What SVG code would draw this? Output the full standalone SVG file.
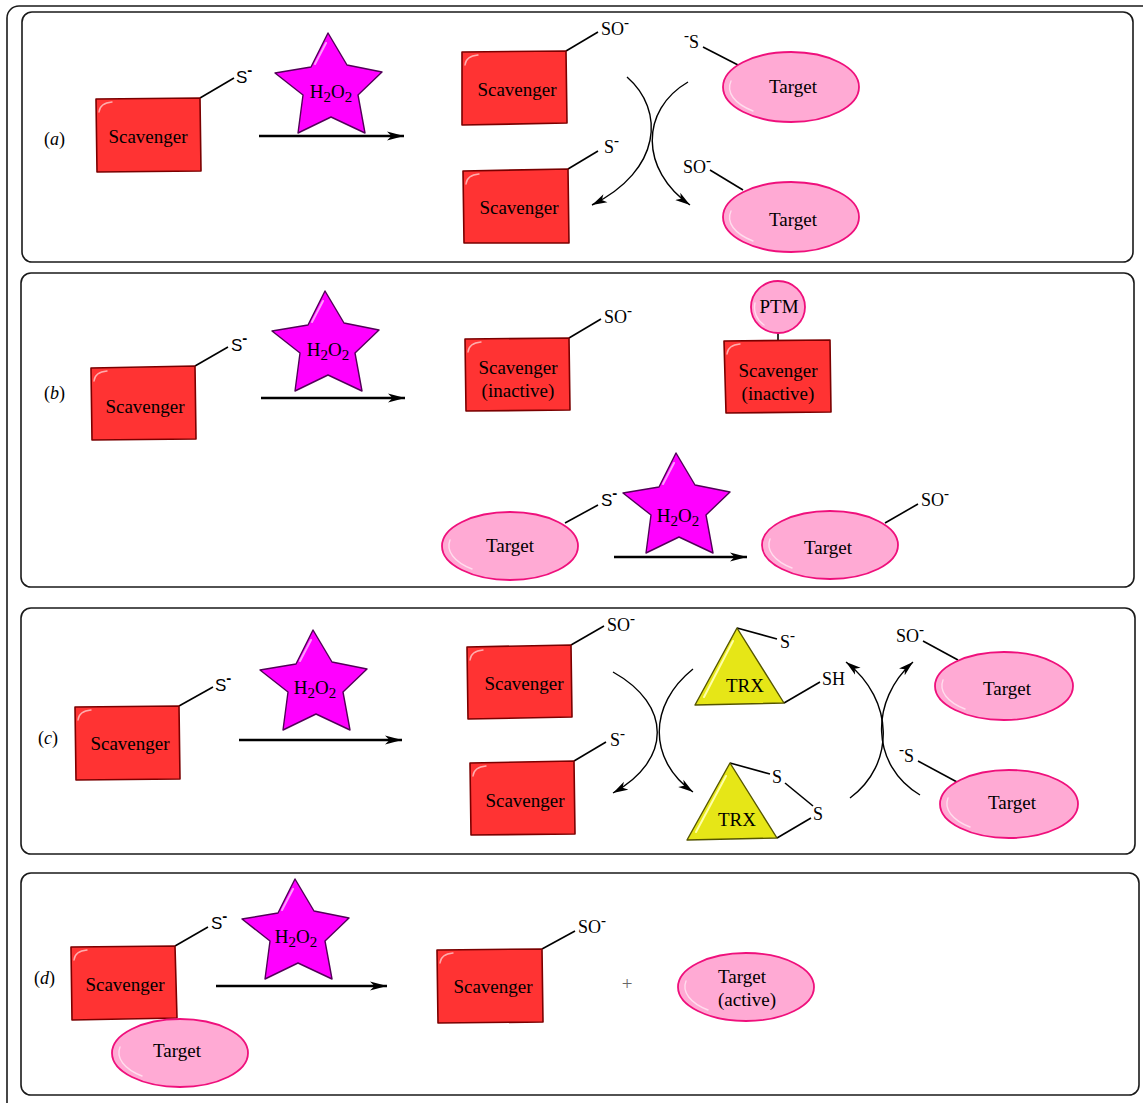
<svg xmlns="http://www.w3.org/2000/svg" xmlns:xlink="http://www.w3.org/1999/xlink" width="1143" height="1103" viewBox="0 0 1143 1103">
<style>
.frame{fill:none;stroke:#1a1a1a;stroke-width:1.6}
.box{fill:#ff3333;stroke:#7a0000;stroke-width:1.6;stroke-linejoin:round}
.tgt{fill:#ffaad4;stroke:#ef107c;stroke-width:1.8}
.star{fill:#ff00ff;stroke:#520058;stroke-width:1.4;stroke-linejoin:round}
.trx{fill:#e6e617;stroke:#555500;stroke-width:1.4;stroke-linejoin:round}
.hl{fill:none;stroke:#ffffff;stroke-opacity:.6;stroke-width:1.4;stroke-linecap:round}
.hls{fill:none;stroke:#ff99ff;stroke-width:2;stroke-linecap:round}
.hlt{fill:none;stroke:#ffffa8;stroke-width:2;stroke-linecap:round}
.bond{stroke:#000;stroke-width:1.6;fill:none}
.arr{stroke:#000;stroke-width:2.4;fill:none;marker-end:url(#ah)}
.carr{stroke:#000;stroke-width:1.4;fill:none;marker-end:url(#ah2)}
.lbl{font-family:"Liberation Serif","Times New Roman",serif;font-size:19px;text-anchor:middle;fill:#000}
.grp{font-family:"Liberation Serif","Times New Roman",serif;font-size:18px;fill:#000}
.sans{font-family:"Liberation Sans",Arial,sans-serif;font-size:17px;fill:#000}
.sup{font-size:15px;font-weight:bold}
.sub{font-size:15px}
.plus{font-family:"Liberation Serif",serif;font-size:19px;fill:#666;text-anchor:middle}
</style>
<defs>
<marker id="ah" markerUnits="userSpaceOnUse" markerWidth="18" markerHeight="10" refX="17" refY="5" orient="auto"><path d="M0,0.5 L17,5 L0,9.5 L4.5,5 Z" fill="#000"/></marker>
<marker id="ah2" markerUnits="userSpaceOnUse" markerWidth="16" markerHeight="10" refX="15" refY="5" orient="auto"><path d="M0,0.5 L15,5 L0,9.5 L4,5 Z" fill="#000"/></marker>
<path id="starShape" d="M-1,-55 L18,-23 L53,-16 L29,7 L36,45 L2,29 L-31,45 L-26,7 L-54,-15 L-18,-21 Z"/>
</defs>

<g id="frames">
<rect class="frame" x="7" y="6" width="1170" height="1130" rx="12"/>
<rect class="frame" x="22" y="12" width="1111" height="250" rx="10"/>
<rect class="frame" x="21" y="273" width="1113" height="314" rx="10"/>
<rect class="frame" x="21" y="608" width="1114" height="246" rx="10"/>
<rect class="frame" x="21" y="873" width="1118" height="222" rx="10"/>
</g>

<g id="panel-labels" class="grp">
<text x="44" y="145">(<tspan font-style="italic">a</tspan>)</text>
<text x="44" y="399">(<tspan font-style="italic">b</tspan>)</text>
<text x="38" y="744">(<tspan font-style="italic">c</tspan>)</text>
<text x="34" y="984">(<tspan font-style="italic">d</tspan>)</text>
</g>

<g id="connectors">
<line class="arr" x1="259" y1="136" x2="404" y2="136"/>
<line class="arr" x1="261" y1="398" x2="405" y2="398"/>
<line class="arr" x1="614" y1="557" x2="747" y2="557"/>
<line class="arr" x1="239" y1="740" x2="402" y2="740"/>
<line class="arr" x1="216" y1="986" x2="387" y2="986"/>
<path class="carr" d="M627,77 C665,110 662,170 592,205"/>
<path class="carr" d="M688,82 C640,110 640,170 690,205"/>
<path class="carr" d="M613,672 C672,705 672,760 613,793"/>
<path class="carr" d="M693,669 C648,705 648,760 693,792"/>
<path class="carr" d="M850,798 C895,765 895,700 846,662"/>
<path class="carr" d="M920,795 C870,765 870,700 913,662"/>
<line class="bond" x1="200" y1="98" x2="234" y2="78"/>
<line class="bond" x1="566" y1="51" x2="598" y2="32"/>
<line class="bond" x1="738" y1="65" x2="703" y2="47"/>
<line class="bond" x1="568" y1="169" x2="598" y2="151"/>
<line class="bond" x1="743" y1="190" x2="710" y2="170"/>
<line class="bond" x1="195" y1="366" x2="228" y2="347"/>
<line class="bond" x1="569" y1="338" x2="601" y2="319"/>
<line class="bond" x1="778" y1="333" x2="778" y2="341"/>
<line class="bond" x1="565" y1="523" x2="598" y2="505"/>
<line class="bond" x1="885" y1="523" x2="918" y2="504"/>
<line class="bond" x1="179" y1="706" x2="213" y2="687"/>
<line class="bond" x1="571" y1="645" x2="604" y2="626"/>
<line class="bond" x1="574" y1="761" x2="606" y2="742"/>
<line class="bond" x1="737" y1="628" x2="777" y2="639"/>
<line class="bond" x1="784" y1="703" x2="820" y2="682"/>
<line class="bond" x1="730" y1="763" x2="770" y2="774"/>
<line class="bond" x1="785" y1="783" x2="813" y2="806"/>
<line class="bond" x1="777" y1="838" x2="811" y2="818"/>
<line class="bond" x1="958" y1="660" x2="923" y2="641"/>
<line class="bond" x1="957" y1="782" x2="918" y2="761"/>
<line class="bond" x1="175" y1="946" x2="208" y2="927"/>
<line class="bond" x1="542" y1="949" x2="575" y2="931"/>
</g>

<g id="a-scavenger1">
<polygon class="box" points="96,99 200,98 201,171 97,172"/>
<path class="hl" d="M99,112 Q100,103 112,102"/>
<text class="lbl" x="148" y="143">Scavenger</text>
<text class="sans" x="236" y="83">S<tspan class="sup" dy="-8">-</tspan></text>
</g>
<g id="a-h2o2">
<use href="#starShape" class="star" transform="translate(329,88)"/>
<path class="hls" d="M326,43 L315,64"/>
<text class="lbl" x="331" y="98">H<tspan class="sub" dy="4">2</tspan><tspan dy="-4">O</tspan><tspan class="sub" dy="4">2</tspan></text>
</g>
<g id="a-scavenger2">
<polygon class="box" points="462,52 566,51 567,123 462,125"/>
<path class="hl" d="M465,65 Q466,56 478,55"/>
<text class="lbl" x="517" y="96">Scavenger</text>
<text class="grp" x="601" y="35">SO<tspan class="sup" dy="-8">-</tspan></text>
</g>
<g id="a-target1">
<ellipse class="tgt" cx="791" cy="87" rx="68" ry="35"/>
<path class="hl" d="M731,81 A62 30 0 0 0 753,111"/>
<text class="lbl" x="793" y="93">Target</text>
<text class="grp" x="684" y="48"><tspan class="sup" dy="-8">-</tspan><tspan dy="8">S</tspan></text>
</g>
<g id="a-scavenger3">
<polygon class="box" points="463,171 568,169 569,243 464,243"/>
<path class="hl" d="M466,184 Q467,175 479,174"/>
<text class="lbl" x="519" y="214">Scavenger</text>
<text class="grp" x="604" y="153">S<tspan class="sup" dy="-8">-</tspan></text>
</g>
<g id="a-target2">
<ellipse class="tgt" cx="791" cy="217" rx="68" ry="35"/>
<path class="hl" d="M731,211 A62 30 0 0 0 753,241"/>
<text class="lbl" x="793" y="226">Target</text>
<text class="grp" x="683" y="173">SO<tspan class="sup" dy="-8">-</tspan></text>
</g>

<g id="b-scavenger1">
<polygon class="box" points="91,368 195,366 196,439 92,440"/>
<path class="hl" d="M94,381 Q95,372 107,371"/>
<text class="lbl" x="145" y="413">Scavenger</text>
<text class="sans" x="231" y="351">S<tspan class="sup" dy="-8">-</tspan></text>
</g>
<g id="b-h2o2-1">
<use href="#starShape" class="star" transform="translate(326,346)"/>
<path class="hls" d="M323,301 L312,322"/>
<text class="lbl" x="328" y="356">H<tspan class="sub" dy="4">2</tspan><tspan dy="-4">O</tspan><tspan class="sub" dy="4">2</tspan></text>
</g>
<g id="b-scavenger-inactive1">
<polygon class="box" points="465,339 569,338 570,410 466,411"/>
<path class="hl" d="M468,352 Q469,343 481,342"/>
<text class="lbl" x="518" y="374">Scavenger</text>
<text class="lbl" x="518" y="397">(inactive)</text>
<text class="grp" x="604" y="323">SO<tspan class="sup" dy="-8">-</tspan></text>
</g>
<g id="b-ptm">
<ellipse class="tgt" cx="778" cy="307" rx="27" ry="26"/>
<path class="hl" d="M755,303 A24 22 0 0 0 764,325"/>
<text class="lbl" x="779" y="313">PTM</text>
</g>
<g id="b-scavenger-inactive2">
<polygon class="box" points="724,341 830,340 831,412 726,413"/>
<path class="hl" d="M727,354 Q728,345 740,344"/>
<text class="lbl" x="778" y="377">Scavenger</text>
<text class="lbl" x="778" y="400">(inactive)</text>
</g>
<g id="b-target1">
<ellipse class="tgt" cx="510" cy="546" rx="68" ry="34"/>
<path class="hl" d="M450,540 A62 30 0 0 0 472,569"/>
<text class="lbl" x="510" y="552">Target</text>
<text class="sans" x="601" y="506">S<tspan class="sup" dy="-8">-</tspan></text>
</g>
<g id="b-h2o2-2">
<use href="#starShape" class="star" transform="translate(677,508)"/>
<path class="hls" d="M674,463 L663,484"/>
<text class="lbl" x="678" y="522">H<tspan class="sub" dy="4">2</tspan><tspan dy="-4">O</tspan><tspan class="sub" dy="4">2</tspan></text>
</g>
<g id="b-target2">
<ellipse class="tgt" cx="830" cy="545" rx="68" ry="34"/>
<path class="hl" d="M770,539 A62 30 0 0 0 792,568"/>
<text class="lbl" x="828" y="554">Target</text>
<text class="grp" x="921" y="506">SO<tspan class="sup" dy="-8">-</tspan></text>
</g>

<g id="c-scavenger1">
<polygon class="box" points="75,707 179,706 180,779 76,780"/>
<path class="hl" d="M78,720 Q79,711 91,710"/>
<text class="lbl" x="130" y="750">Scavenger</text>
<text class="sans" x="215" y="691">S<tspan class="sup" dy="-8">-</tspan></text>
</g>
<g id="c-h2o2">
<use href="#starShape" class="star" transform="translate(314,685)"/>
<path class="hls" d="M311,640 L300,661"/>
<text class="lbl" x="315" y="694">H<tspan class="sub" dy="4">2</tspan><tspan dy="-4">O</tspan><tspan class="sub" dy="4">2</tspan></text>
</g>
<g id="c-scavenger2">
<polygon class="box" points="467,647 571,645 572,717 468,719"/>
<path class="hl" d="M470,660 Q471,651 483,650"/>
<text class="lbl" x="524" y="690">Scavenger</text>
<text class="grp" x="607" y="631">SO<tspan class="sup" dy="-8">-</tspan></text>
</g>
<g id="c-scavenger3">
<polygon class="box" points="470,763 574,761 575,834 471,835"/>
<path class="hl" d="M473,776 Q474,767 486,766"/>
<text class="lbl" x="525" y="807">Scavenger</text>
<text class="grp" x="610" y="746">S<tspan class="sup" dy="-8">-</tspan></text>
</g>
<g id="c-trx-reduced">
<polygon class="trx" points="737,628 784,703 695,705"/>
<path class="hlt" d="M733,641 L704,697"/>
<text class="lbl" x="745" y="692">TRX</text>
<text class="grp" x="780" y="648">S<tspan class="sup" dy="-8">-</tspan></text>
<text class="grp" x="822" y="685">SH</text>
</g>
<g id="c-trx-oxidized">
<polygon class="trx" points="730,763 777,838 687,840"/>
<path class="hlt" d="M726,776 L696,832"/>
<text class="lbl" x="737" y="826">TRX</text>
<text class="grp" x="772" y="783">S</text>
<text class="grp" x="813" y="820">S</text>
</g>
<g id="c-target1">
<ellipse class="tgt" cx="1004" cy="686" rx="69" ry="34"/>
<path class="hl" d="M943,680 A62 30 0 0 0 965,709"/>
<text class="lbl" x="1007" y="695">Target</text>
<text class="grp" x="896" y="642">SO<tspan class="sup" dy="-8">-</tspan></text>
</g>
<g id="c-target2">
<ellipse class="tgt" cx="1009" cy="804" rx="69" ry="34"/>
<path class="hl" d="M948,798 A62 30 0 0 0 970,827"/>
<text class="lbl" x="1012" y="809">Target</text>
<text class="grp" x="899" y="762"><tspan class="sup" dy="-8">-</tspan><tspan dy="8">S</tspan></text>
</g>

<g id="d-scavenger1">
<polygon class="box" points="71,947 175,946 177,1018 72,1020"/>
<path class="hl" d="M74,960 Q75,951 87,950"/>
<text class="lbl" x="125" y="991">Scavenger</text>
<text class="sans" x="211" y="929">S<tspan class="sup" dy="-8">-</tspan></text>
</g>
<g id="d-target1">
<ellipse class="tgt" cx="180" cy="1053" rx="68" ry="34"/>
<path class="hl" d="M120,1047 A62 30 0 0 0 142,1076"/>
<text class="lbl" x="177" y="1057">Target</text>
</g>
<g id="d-h2o2">
<use href="#starShape" class="star" transform="translate(296,934)"/>
<path class="hls" d="M293,889 L282,910"/>
<text class="lbl" x="296" y="943">H<tspan class="sub" dy="4">2</tspan><tspan dy="-4">O</tspan><tspan class="sub" dy="4">2</tspan></text>
</g>
<g id="d-scavenger2">
<polygon class="box" points="437,950 542,949 543,1022 438,1023"/>
<path class="hl" d="M440,963 Q441,954 453,953"/>
<text class="lbl" x="493" y="993">Scavenger</text>
<text class="grp" x="578" y="933">SO<tspan class="sup" dy="-8">-</tspan></text>
</g>
<g id="d-plus">
<text class="plus" x="627" y="990">+</text>
</g>
<g id="d-target-active">
<ellipse class="tgt" cx="746" cy="987" rx="68" ry="34"/>
<path class="hl" d="M686,981 A62 30 0 0 0 708,1010"/>
<text class="lbl" x="742" y="983">Target</text>
<text class="lbl" x="747" y="1006">(active)</text>
</g>
</svg>
